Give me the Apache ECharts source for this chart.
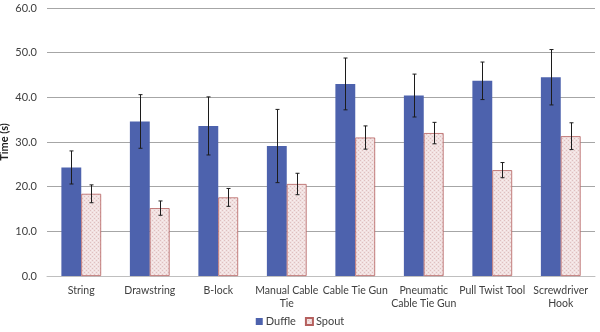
<!DOCTYPE html>
<html>
<head>
<meta charset="utf-8">
<script src="https://cdn.jsdelivr.net/npm/echarts@6/dist/echarts.min.js"></script>
<style>
  html, body { margin: 0; padding: 0; background: #fff; }
  #chart { width: 600px; height: 332px; }
</style>
</head>
<body>
<div id="chart"></div>
<script>
// Task completion times by tying method
const categories = ['String', 'Drawstring', 'B-lock', 'Manual Cable\nTie', 'Cable Tie Gun',
  'Pneumatic\nCable Tie Gun', 'Pull Twist Tool', 'Screwdriver\nHook'];
const duffleMean = [24.3, 34.6, 33.6, 29.1, 43.0, 40.4, 43.7, 44.5];
const duffleErr  = [3.7, 6.0, 6.5, 8.2, 5.8, 4.8, 4.2, 6.2];
const spoutMean  = [18.4, 15.2, 17.6, 20.6, 31.0, 32.0, 23.7, 31.3];
const spoutErr   = [2.0, 1.6, 2.0, 2.4, 2.6, 2.4, 1.7, 3.0];
const yTicks = { min: 0, max: 60, interval: 10 };

const FONT = 'Lato, "Open Sans", sans-serif';
const BAR_FRAC = 0.29;

// fine pink hatch used for the Spout bars
function makeHatch() {
  const c = document.createElement('canvas');
  c.width = 4; c.height = 4;
  const g = c.getContext('2d');
  g.fillStyle = '#f1e1e1';
  g.fillRect(0, 0, 4, 4);
  g.fillStyle = '#dfbfbf';
  g.fillRect(0, 0, 1, 1);
  g.fillRect(2, 2, 1, 1);
  g.fillStyle = '#f8eeee';
  g.fillRect(2, 0, 1, 1);
  g.fillRect(0, 2, 1, 1);
  return c;
}
const hatch = { image: makeHatch(), repeat: 'repeat' };

function errorSeries(means, errs, side) {
  return {
    type: 'custom',
    z: 10,
    silent: true,
    data: means.map((m, i) => [i, m - errs[i], m + errs[i]]),
    renderItem: function (params, api) {
      const band = api.size([1, 0])[0];
      const off = side * band * BAR_FRAC / 2;
      const lo = api.coord([api.value(0), api.value(1)]);
      const hi = api.coord([api.value(0), api.value(2)]);
      const x = Math.round(lo[0] + off) + 0.5;
      const cap = 2;
      const style = { stroke: '#1c1c1c', lineWidth: 1 };
      return {
        type: 'group',
        children: [
          { type: 'line', shape: { x1: x, y1: hi[1], x2: x, y2: lo[1] }, style },
          { type: 'line', shape: { x1: x - cap, y1: hi[1], x2: x + cap, y2: hi[1] }, style },
          { type: 'line', shape: { x1: x - cap, y1: lo[1], x2: x + cap, y2: lo[1] }, style }
        ]
      };
    }
  };
}

const chart = echarts.init(document.getElementById('chart'), null, { renderer: 'canvas' });
chart.setOption({
  animation: false,
  backgroundColor: '#fff',
  grid: { left: 47, right: 5, top: 8, bottom: 56, containLabel: false, outerBoundsMode: 'none' },
  legend: {
    data: ['Duffle', 'Spout'],
    bottom: 0,
    left: 'center',
    itemWidth: 7,
    itemHeight: 7,
    itemGap: 9,
    icon: 'rect',
    textStyle: { fontFamily: FONT, fontSize: 11, color: '#404040', padding: [0, 0, 0, -2] }
  },
  xAxis: {
    type: 'category',
    data: categories,
    axisLine: { lineStyle: { color: '#bfbfbf', width: 1 } },
    axisTick: { show: false },
    axisLabel: { interval: 0, fontFamily: FONT, fontSize: 10.5, color: '#404040', lineHeight: 13, margin: 8 }
  },
  yAxis: {
    type: 'value',
    min: yTicks.min, max: yTicks.max, interval: yTicks.interval,
    name: 'Time (s)',
    nameLocation: 'middle',
    nameGap: 37,
    nameMoveOverlap: false,
    nameTextStyle: { fontFamily: FONT, fontSize: 11, fontWeight: 'bold', color: '#222' },
    axisLine: { show: false },
    axisTick: { show: false },
    axisLabel: {
      fontFamily: FONT, fontSize: 11, color: '#404040', margin: 10,
      formatter: v => v.toFixed(1)
    },
    splitLine: { lineStyle: { color: '#a6a6a6', width: 1 } }
  },
  series: [
    {
      name: 'Duffle', type: 'bar', data: duffleMean,
      barWidth: (BAR_FRAC * 100) + '%', barGap: '0%',
      itemStyle: { color: '#4d62ad' }
    },
    {
      name: 'Spout', type: 'bar', data: spoutMean,
      barWidth: (BAR_FRAC * 100) + '%', barGap: '0%',
      itemStyle: { color: hatch, borderColor: '#b5605e', borderWidth: 0.8 }
    },
    errorSeries(duffleMean, duffleErr, -1),
    errorSeries(spoutMean, spoutErr, 1)
  ]
});
</script>
</body>
</html>
